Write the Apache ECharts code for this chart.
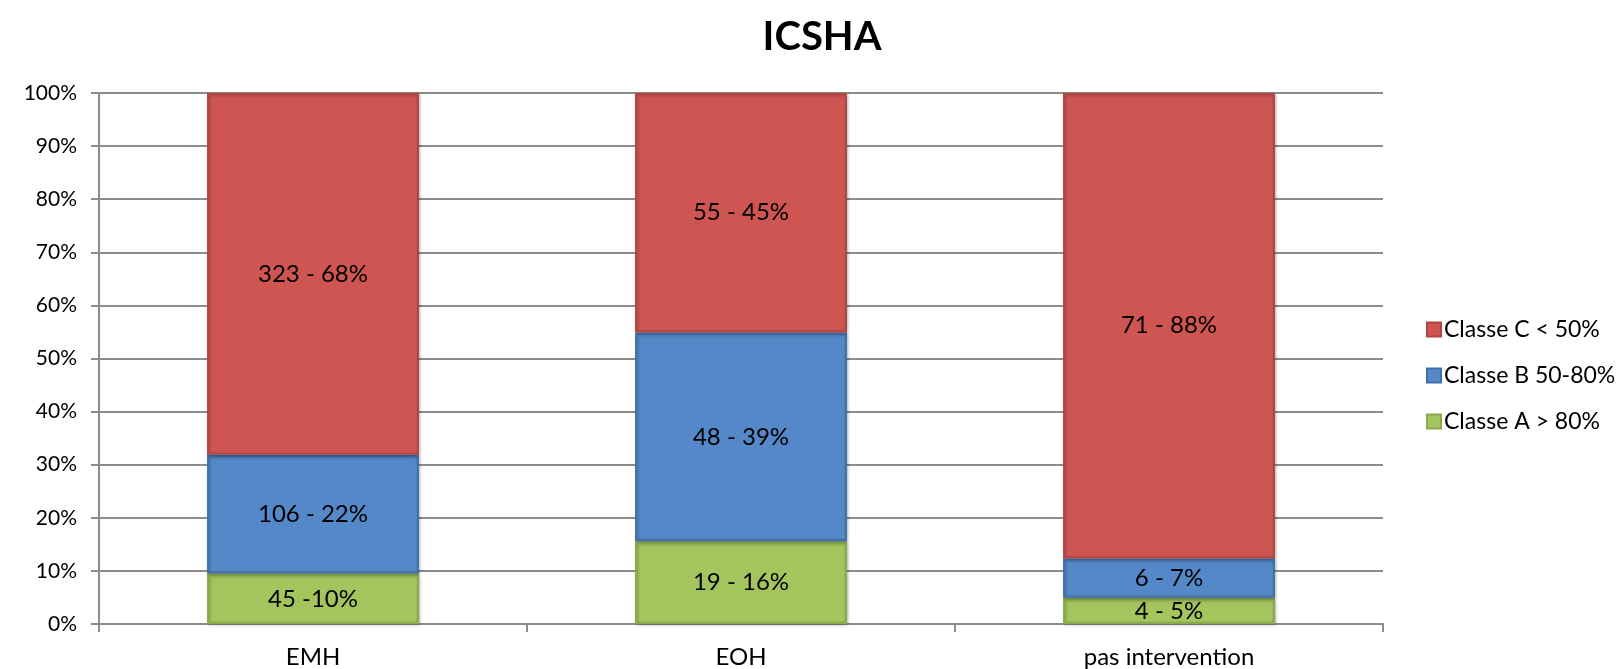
<!DOCTYPE html>
<html>
<head>
<meta charset="utf-8">
<script src="https://cdn.jsdelivr.net/npm/echarts@6/dist/echarts.min.js"></script>
<style>
html,body{margin:0;padding:0;background:#fff;}
#main{width:1624px;height:669px;}
</style>
</head>
<body>
<div id="main"></div>
<script>
// categories and counts per class
var categories = ['EMH', 'EOH', 'pas intervention'];
var classA = [45, 19, 4];
var classB = [106, 48, 6];
var classC = [323, 55, 71];
var labelsA = ['45 -10%', '19 - 16%', '4 - 5%'];
var labelsB = ['106 - 22%', '48 - 39%', '6 - 7%'];
var labelsC = ['323 - 68%', '55 - 45%', '71 - 88%'];
var yTicks = ['0%', '10%', '20%', '30%', '40%', '50%', '60%', '70%', '80%', '90%', '100%'];

var FONT = 'Lato';

function share(arr)
{
	var out = [];
	for (var i = 0; i < arr.length; i++) {
		var tot = classA[i] + classB[i] + classC[i];
		out.push(arr[i] / tot * 100);
	}
	return out;
}

function makeSeries(name, vals, labels, color, border)
{
	return {
		name: name,
		type: 'bar',
		stack: 'total',
		barWidth: '49.5%',
		data: share(vals),
		itemStyle: {
			color: color,
			borderColor: border,
			borderWidth: 2,
			shadowColor: 'rgba(0,0,0,0.25)',
			shadowBlur: 3,
			shadowOffsetX: 1,
			shadowOffsetY: 1
		},
		label: {
			show: true,
			position: 'inside',
			fontFamily: FONT,
			fontSize: 24,
			color: '#000',
			formatter: function (p) { return labels[p.dataIndex]; }
		}
	};
}

var option = {
	backgroundColor: '#fff',
	animation: false,
	title: {
		text: 'ICSHA',
		left: 817,
		textAlign: 'center',
		top: 12,
		textStyle: {fontFamily: FONT, fontSize: 40, fontWeight: 'bold', color: '#000'}
	},
	legend: {
		orient: 'vertical',
		left: 1421,
		top: 313,
		itemWidth: 14,
		itemHeight: 14,
		itemGap: 23,
		icon: 'rect',
		data: ['Classe C < 50%', 'Classe B 50-80%', 'Classe A > 80%'],
		textStyle: {fontFamily: FONT, fontSize: 23, color: '#000', padding: [0, 0, 0, -2]}
	},
	grid: {left: 99, right: 241, top: 93, bottom: 45},
	xAxis: {
		type: 'category',
		data: categories,
		axisLine: {show: true, lineStyle: {color: '#8c8c8c', width: 2}},
		axisTick: {show: true, length: 8, lineStyle: {color: '#8c8c8c', width: 2}},
		axisLabel: {fontFamily: FONT, fontSize: 24, color: '#000', margin: 21}
	},
	yAxis: {
		type: 'value',
		min: 0,
		max: 100,
		interval: 10,
		axisLine: {show: true, lineStyle: {color: '#8c8c8c', width: 2}},
		axisTick: {show: true, length: 8, lineStyle: {color: '#8c8c8c', width: 2}},
		splitLine: {show: true, lineStyle: {color: '#8c8c8c', width: 2}},
		axisLabel: {
			fontFamily: FONT, fontSize: 21, color: '#000', margin: 22,
			formatter: function (v) { return yTicks[Math.round(v / 10)]; }
		}
	},
	series: [
		makeSeries('Classe A > 80%', classA, labelsA, '#A4C45E', '#8BA94A'),
		makeSeries('Classe B 50-80%', classB, labelsB, '#5588C8', '#3F6FAA'),
		makeSeries('Classe C < 50%', classC, labelsC, '#CF5553', '#B04543')
	]
};

var myChart = echarts.init(document.getElementById('main'));
myChart.setOption(option);
</script>
</body>
</html>
